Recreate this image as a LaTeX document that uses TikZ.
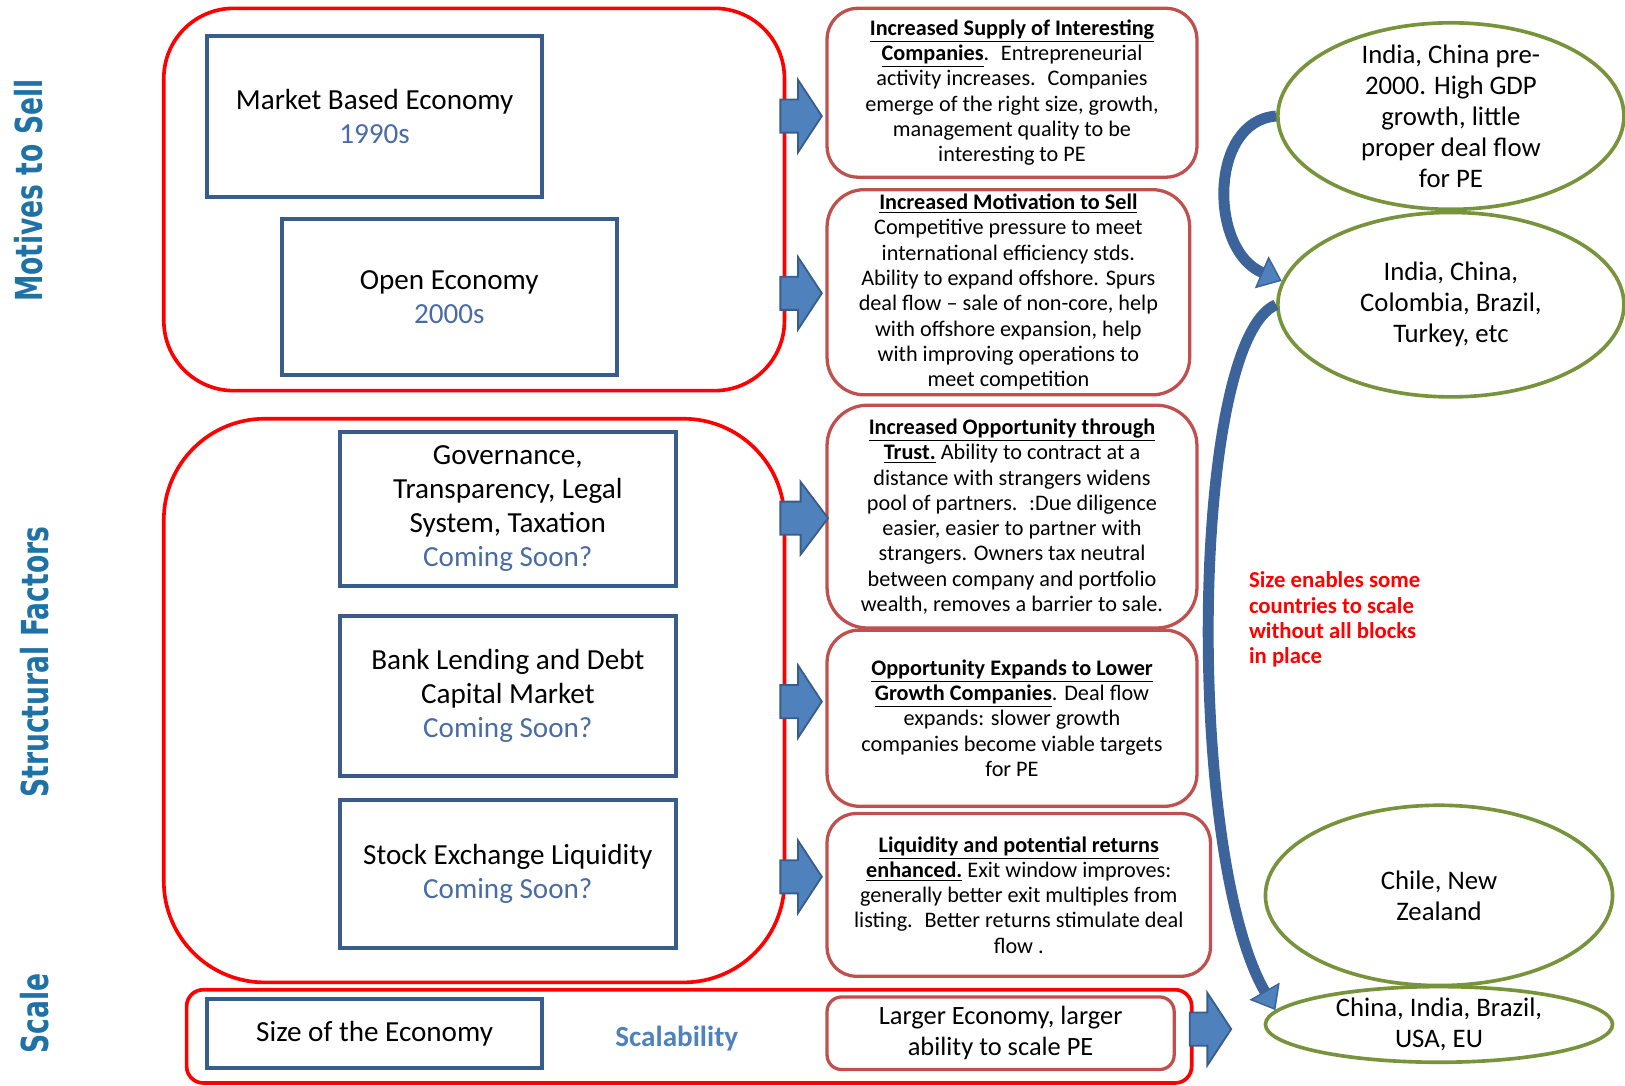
\documentclass[tikz,border=0pt]{standalone}
\usepackage{fontspec}
\setmainfont{Carlito}
\newfontfamily\titlefont{DejaVu Sans}
\usepackage{graphicx}
\usetikzlibrary{shapes.geometric}
\usetikzlibrary{arrows.meta}
\usetikzlibrary{positioning}

\definecolor{grpred}{RGB}{255,0,0}
\definecolor{boxblue}{RGB}{56,93,138}
\definecolor{softblue}{RGB}{72,108,163}
\definecolor{accentred}{RGB}{192,80,77}
\definecolor{greenline}{RGB}{119,147,60}
\definecolor{arrowfill}{RGB}{79,129,189}
\definecolor{curveblue}{RGB}{60,100,155}
\definecolor{titleblue}{RGB}{31,114,165}

\newcommand{\uhead}[1]{\underline{\textbf{#1}}}
\newcommand{\comingsoon}{\textcolor{softblue}{Coming Soon?}}

\begin{document}
\begin{tikzpicture}[x=0.02cm,y=-0.02cm,
	group/.style={draw=grpred, line width=2pt},
	factor/.style={draw=boxblue, line width=2.2pt, align=center, font=\fontsize{16}{18.7}\selectfont},
	effect/.style={draw=accentred, line width=1.8pt, align=center, inner ysep=0pt, font=\fontsize{12.2}{13.9}\selectfont},
	country/.style={ellipse, draw=greenline, line width=2pt, minimum width=6.68cm},
	sidetitle/.style={rotate=90, text=titleblue, font=\titlefont\bfseries\fontsize{14.6}{16}\selectfont},
	fatarrow/.pic={\draw[fill=arrowfill, draw=boxblue, line width=1pt] (0,-16) -- (17,-16) -- (17,-35) -- (40,0) -- (17,35) -- (17,16) -- (0,16) -- cycle;},
	curvearrow/.style={draw=curveblue, line width=6pt, -{Triangle[length=12pt,width=19pt,fill=arrowfill,line width=0.8pt]}}]
	\useasboundingbox (0,0) rectangle (1568,1047);

	% row titles
	\node[sidetitle] (tmotive) at (28,184) {\scalebox{1}[1.4]{Motives to Sell}};
	\node[sidetitle] (tstruct) at (33.5,639) {\scalebox{1}[1.4]{Structural Factors}};
	\node[sidetitle] (tscale) at (33.5,978) {\scalebox{1}[1.4]{Scale}};

	% groups
	\node[group, rounded corners=1.35cm, minimum width=11.98cm, minimum height=7.38cm] (motives) at (457.5,192.5) {};
	\node[group, rounded corners=1.95cm, minimum width=11.98cm, minimum height=10.88cm] (structural) at (457.5,676) {};
	\node[group, rounded corners=0.32cm, minimum width=19.4cm, minimum height=1.8cm] (scale) at (665,1000) {};

	% factors
	\node[factor, minimum width=6.46cm, minimum height=3.1cm] (market) at (361.5,112.5)
		{Market Based Economy\\ \textcolor{softblue}{1990s}};
	\node[factor, minimum width=6.46cm, minimum height=3.02cm] (open) at (433.5,286.5)
		{Open Economy\\ \textcolor{softblue}{2000s}};
	\node[factor, minimum width=6.48cm, minimum height=2.96cm] (govern) at (490,491)
		{Governance,\\ Transparency, Legal\\ System, Taxation\\ \comingsoon};
	\node[factor, minimum width=6.48cm, minimum height=3.1cm] (bank) at (490,671.5)
		{Bank Lending and Debt\\ Capital Market\\ \comingsoon};
	\node[factor, minimum width=6.48cm, minimum height=2.86cm] (stock) at (490,843.5)
		{Stock Exchange Liquidity\\ \comingsoon};
	\node[factor, minimum width=6.46cm, minimum height=1.34cm] (size) at (361.5,997.5)
		{Size of the Economy};
	\node[text=arrowfill, font=\bfseries\fontsize{16}{18}\selectfont] (scalab) at (653,1002) {Scalability};

	% effects
	\node[effect, rounded corners=0.6cm, minimum width=7.14cm, minimum height=3.26cm] (supply) at (976.5,89.5)
		{\uhead{Increased Supply of Interesting}\\
		\uhead{Companies}.~ Entrepreneurial\\
		activity increases.~ Companies\\
		emerge of the right size, growth,\\
		management quality to be\\
		interesting to PE};
	\node[effect, rounded corners=0.72cm, minimum width=7cm, minimum height=3.96cm] (motivation) at (973,282)
		{\uhead{Increased Motivation to Sell}\\
		Competitive pressure to meet\\
		international efficiency stds.\\
		Ability to expand offshore. Spurs\\
		deal flow -- sale of non-core, help\\
		with offshore expansion, help\\
		with improving operations to\\
		meet competition};
	\node[effect, rounded corners=0.78cm, minimum width=7.14cm, minimum height=4.3cm] (trust) at (976.5,498.5)
		{\uhead{Increased Opportunity through}\\
		\uhead{Trust.} Ability to contract at a\\
		distance with strangers widens\\
		pool of partners.~ :Due diligence\\
		easier, easier to partner with\\
		strangers. Owners tax neutral\\
		between company and portfolio\\
		wealth, removes a barrier to sale.};
	\node[effect, rounded corners=0.62cm, minimum width=7.14cm, minimum height=3.4cm] (lower) at (976.5,693)
		{\uhead{Opportunity Expands to Lower}\\
		\uhead{Growth Companies}. Deal flow\\
		expands: slower growth\\
		companies become viable targets\\
		for PE};
	\node[effect, rounded corners=0.56cm, minimum width=7.4cm, minimum height=3.14cm] (liquid) at (983,863.5)
		{\uhead{Liquidity and potential returns}\\
		\uhead{enhanced.} Exit window improves:\\
		generally better exit multiples from\\
		listing.~ Better returns stimulate deal\\
		flow .};
	\node[effect, rounded corners=0.28cm, minimum width=6.7cm, minimum height=1.4cm, font=\fontsize{14.5}{17}\selectfont] (larger) at (965.5,997)
		{Larger Economy, larger\\ ability to scale PE};

	% block arrows
	\pic at (753,112) {fatarrow};
	\pic at (753,283) {fatarrow};
	\pic[xscale=1.15] at (753,500) {fatarrow};
	\pic at (753,677) {fatarrow};
	\pic at (753,846) {fatarrow};
	\pic at (1148,993) {fatarrow};

	% countries
	\node[country, minimum height=3.6cm, label={[align=center, font=\fontsize{14.7}{17}\selectfont]center:India, China pre-\\2000. High GDP\\growth, little\\proper deal flow\\for PE}] (pre) at (1400,112) {};
	\node[country, minimum height=3.56cm, label={[align=center, font=\fontsize{14.7}{17}\selectfont]center:India, China,\\Colombia, Brazil,\\Turkey, etc}] (mid) at (1400,294) {};
	\node[country, minimum width=6.7cm, minimum height=3.48cm, label={[align=center, font=\fontsize{14.7}{17}\selectfont]center:Chile, New\\Zealand}] (small) at (1388.5,864) {};
	\node[country, minimum width=6.7cm, minimum height=1.46cm, label={[align=center, font=\fontsize{14.7}{17}\selectfont]center:China, India, Brazil,\\USA, EU}] (big) at (1388.5,988.5) {};

	\node[anchor=west, align=left, text=grpred, font=\bfseries\fontsize{12.5}{13.9}\selectfont] (note) at (1199,598)
		{Size enables some\\ countries to scale\\ without all blocks\\ in place};

	% curved arrows
	\draw[curvearrow] (pre.west) .. controls +(-65,5) and +(-70,-30) .. (mid.172);
	\draw[curvearrow] (mid.west) .. controls +(-83,36) and +(-87,-152) .. (big.175);
\end{tikzpicture}
\end{document}
